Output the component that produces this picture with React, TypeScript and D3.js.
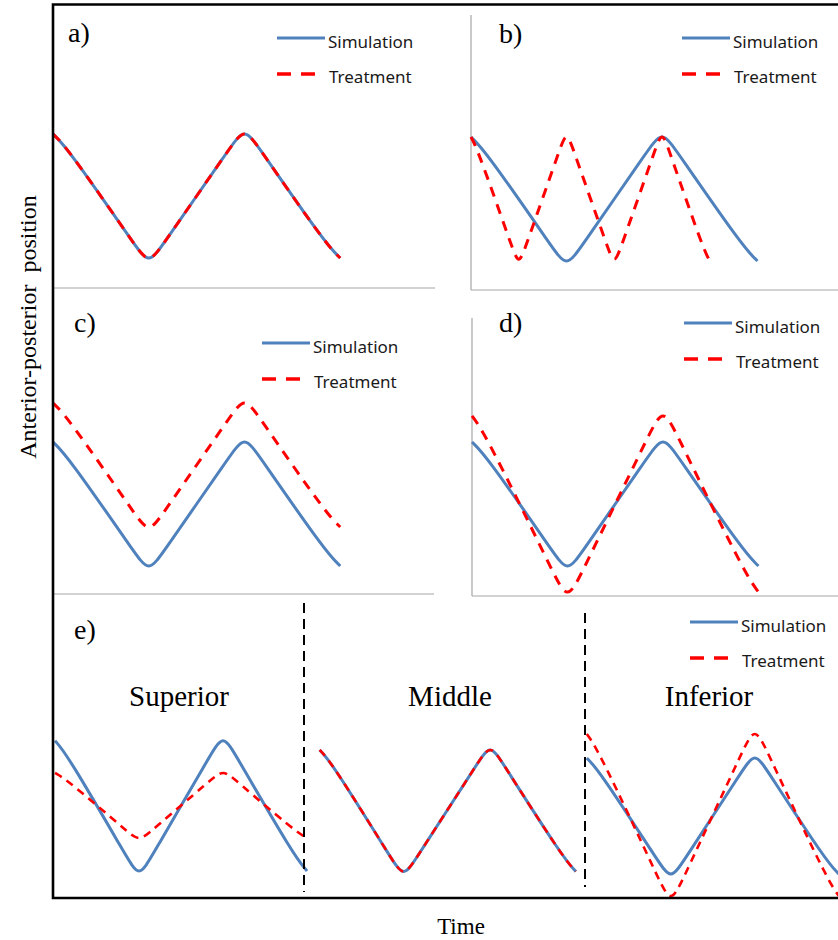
import React from 'react';
import * as d3 from 'd3';

const BLUE = '#4f81bd';
const RED = '#ff0000';
const GRAY = '#a6a6a6';
const SERIF = "'Times New Roman', 'Liberation Serif', serif";
const SANS = "'Noto Sans', 'Open Sans', sans-serif";

// time in half breathing cycles; each turning point has a shoulder point either side
const tStd = [0, 0.15, 0.85, 1, 1.15, 1.85, 2, 2.15, 2.85, 3];
const tFast = [0, 0.075, 0.425, 0.5, 0.575, 0.925, 1, 1.075, 1.425, 1.5, 1.575, 1.925, 2, 2.075, 2.425, 2.5];

// a) identical motion
const simA = [9.5, 8.5, 1.5, 0, 1.5, 8.5, 10, 8.5, 1.5, 0.5];
const treatA = [9.5, 8.5, 1.5, 0, 1.5, 8.5, 10, 8.5, 1.5, 0.5];
// b) treatment at double frequency
const simB = [9.5, 8.5, 1.5, 0, 1.5, 8.5, 10, 8.5, 1.5, 0.5];
const treatB = [9.5, 8.5, 1.6, 0.15, 1.6, 8.5, 10, 8.5, 1.6, 0.15, 1.6, 8.5, 10, 8.5, 1.5, 0.5];
// c) baseline shift
const simC = [9.5, 8.5, 1.5, 0, 1.5, 8.5, 10, 8.5, 1.5, 0.5];
const treatC = [12.33, 11.33, 4.33, 2.83, 4.33, 11.33, 12.83, 11.33, 4.33, 3.33];
// d) larger amplitude
const simD = [9.5, 8.5, 1.5, 0, 1.5, 8.5, 10, 8.5, 1.5, 0.5];
const treatD = [11.39, 9.97, 0.03, -2.1, 0.03, 9.97, 12.1, 9.97, 0.03, -1.39];

// e) three regions along the time axis
const tSup = [0, 0.15, 0.85, 1, 1.15, 1.85, 2, 2.15, 2.85, 3];
const simSup = [9.98, 8.93, 1.58, 0, 1.58, 8.93, 10.5, 8.93, 1.58, 0.53];
const treatSup = [7.64, 7.11, 3.45, 2.66, 3.45, 7.11, 7.9, 7.11, 3.45, 2.92];
const tMid = [3.15, 3.3, 4.0, 4.15, 4.3, 5.03, 5.18, 5.33, 6.05, 6.2];
const simMid = [9.31, 8.33, 1.47, 0, 1.47, 8.33, 9.8, 8.33, 1.47, 0.49];
const treatMid = [9.31, 8.33, 1.47, 0, 1.47, 8.33, 9.8, 8.33, 1.47, 0.49];
const tInf = [6.33, 6.48, 7.18, 7.33, 7.48, 8.18, 8.33, 8.48, 9.18, 9.33];
const simInf = [8.72, 7.79, 1.24, -0.16, 1.24, 7.79, 9.19, 7.79, 1.24, 0.31];
const treatInf = [10.47, 9.16, 0.02, -1.94, 0.02, 9.16, 11.12, 9.16, 0.02, -1.29];

const regionNames = ['Superior', 'Middle', 'Inferior'];
const legendNames = ['Simulation', 'Treatment'];

const zip = (t, v) => t.map((d, i) => [d, v[i]]);

const panels = [
  {
    label: 'a)', lx: 68, ly: 42, leg: [277, 38],
    x: d3.scaleLinear().domain([0, 4]).range([53, 436]),
    y: d3.scaleLinear().domain([-1.677, 18.935]).range([288, 4]),
    sim: [zip(tStd, simA)], treat: [zip(tStd, treatA)],
  },
  {
    label: 'b)', lx: 499, ly: 43, leg: [682, 38],
    x: d3.scaleLinear().domain([0, 4]).range([471, 853]),
    y: d3.scaleLinear().domain([-1.605, 18.355]).range([290, 15]),
    sim: [zip(tStd, simB)], treat: [zip(tFast, treatB)],
  },
  {
    label: 'c)', lx: 74, ly: 332, leg: [262, 343],
    x: d3.scaleLinear().domain([0, 4]).range([53, 436]),
    y: d3.scaleLinear().domain([-1.532, 20.677]).range([594, 288]),
    sim: [zip(tStd, simC)], treat: [zip(tStd, treatC)],
  },
  {
    label: 'd)', lx: 499, ly: 332, leg: [684, 323],
    x: d3.scaleLinear().domain([0, 4]).range([472, 854]),
    y: d3.scaleLinear().domain([-1.677, 18.5]).range([596, 318]),
    sim: [zip(tStd, simD)], treat: [zip(tStd, treatD)],
  },
  {
    label: 'e)', lx: 74, ly: 639, leg: [690, 622],
    x: d3.scaleLinear().domain([-0.024, 9.32]).range([53, 838]),
    y: d3.scaleLinear().domain([-1.435, 20.557]).range([898, 595]),
    sim: [zip(tSup, simSup), zip(tMid, simMid), zip(tInf, simInf)],
    treat: [zip(tSup, treatSup), zip(tMid, treatMid), zip(tInf, treatInf)],
    thin: true,
  },
];

function Legend({ x, y }) {
  return (
    <g fontFamily={SANS} fontSize={17} fill="#1a1a1a">
      <line x1={x} x2={x + 48} y1={y} y2={y} stroke={BLUE} strokeWidth={3} />
      <text x={x + 51} y={y + 9.5}>{legendNames[0]}</text>
      <line x1={x} x2={x + 38} y1={y + 36} y2={y + 36} stroke={RED} strokeWidth={3.5} strokeDasharray="14,10" />
      <text x={x + 52} y={y + 45}>{legendNames[1]}</text>
    </g>
  );
}

function Panel({ p }) {
  const line = d3.line()
    .x(d => p.x(d[0]))
    .y(d => p.y(d[1]))
    .curve(d3.curveBasis);
  return (
    <g>
      {p.sim.map((s, i) =>
        <path key={'s' + i} d={line(s)} fill="none" stroke={BLUE} strokeWidth={3} />
      )}
      {p.treat.map((s, i) =>
        <path key={'t' + i} d={line(s)} fill="none" stroke={RED}
          strokeWidth={p.thin ? 2.6 : 3} strokeDasharray={p.thin ? '8,6' : '10,8'} />
      )}
      <text x={p.lx} y={p.ly} fontFamily={SERIF} fontSize={28}>{p.label}</text>
      <Legend x={p.leg[0]} y={p.leg[1]} />
    </g>
  );
}

export default function App() {
  const [a, b, c, d, e] = panels;
  const regionX = [179, 450, 709];
  return (
    <svg width={838} height={940} style={{ position: 'absolute', left: 0, top: 0, background: '#fff' }}>
      {/* light axes of the sub plots */}
      <g stroke={GRAY} strokeWidth={1.2}>
        <line x1={a.x.range()[0]} x2={435} y1={288} y2={288} />
        <line x1={b.x.range()[0]} x2={b.x.range()[0]} y1={15} y2={290} />
        <line x1={b.x.range()[0]} x2={838} y1={290} y2={290} />
        <line x1={c.x.range()[0]} x2={434} y1={594} y2={594} />
        <line x1={d.x.range()[0]} x2={d.x.range()[0]} y1={318} y2={596} />
        <line x1={d.x.range()[0]} x2={838} y1={596} y2={596} />
      </g>
      {panels.map((p, i) => <Panel key={i} p={p} />)}
      {/* region separators in e */}
      <g stroke="#000" strokeWidth={2} strokeDasharray="10,6">
        <line x1={304} x2={304} y1={603} y2={892} />
        <line x1={585} x2={585} y1={613} y2={887} />
      </g>
      {regionNames.map((n, i) =>
        <text key={n} x={regionX[i]} y={706} textAnchor="middle" fontFamily={SERIF} fontSize={29}>{n}</text>
      )}
      {/* outer frame */}
      <path d={`M838,4.5 H${e.x.range()[0]} V898 H838`} fill="none" stroke="#000" strokeWidth={2.6} />
      <text transform="translate(36,327) rotate(-90)" textAnchor="middle" fontFamily={SERIF} fontSize={24}
        style={{ whiteSpace: 'pre' }}>{'Anterior-posterior  position'}</text>
      <text x={461} y={934} textAnchor="middle" fontFamily={SERIF} fontSize={23}>Time</text>
    </svg>
  );
}
